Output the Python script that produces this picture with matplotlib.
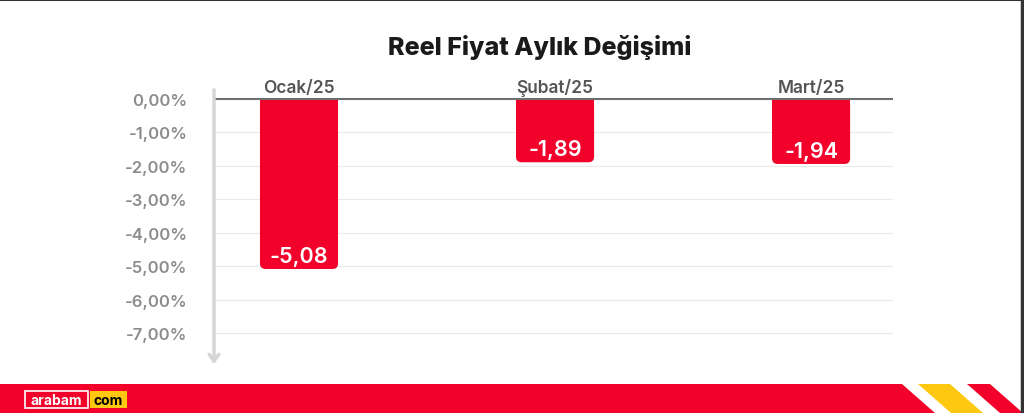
import matplotlib.pyplot as plt
from matplotlib.patches import FancyBboxPatch, Polygon, Rectangle

# veriler
aylar = ["Ocak/25", "Şubat/25", "Mart/25"]
degisim = [-5.08, -1.89, -1.94]
etiketler = ["-5,08", "-1,89", "-1,94"]
y_ticks = [0, -1, -2, -3, -4, -5, -6, -7]
y_tick_etiket = ["0,00%", "-1,00%", "-2,00%", "-3,00%", "-4,00%", "-5,00%", "-6,00%", "-7,00%"]

KIRMIZI = "#f2022b"
SARI = "#fdc80f"
W, H = 1024, 414

plt.rcParams['font.family'] = ['Inter', 'DejaVu Sans']

fig = plt.figure(figsize=(W / 100, H / 100), dpi=100)
fig.patch.set_facecolor("white")

# eksen: piksel konumlari
left, right, top, bottom = 214, 893, 88, 365
ax = fig.add_axes([left / W, 1 - bottom / H, (right - left) / W, (bottom - top) / H])
ax.set_xlim(-0.332, 2.32)
ax.set_ylim(-7.92, 0.36)
for s in ax.spines.values():
    s.set_visible(False)
ax.set_xticks([])
ax.set_yticks(y_ticks)
ax.set_yticklabels(y_tick_etiket, color="#8c8c8c", fontsize=12, fontweight="semibold")
ax.tick_params(axis="y", length=0, pad=19)

for t in y_ticks[1:]:
    ax.axhline(t, color="#e9e9e9", lw=0.8, zorder=0)
ax.axhline(0, color="#6e6e6e", lw=1.5, zorder=3)

# dikey ok
ax.annotate("", xy=(left / W, 1 - 368 / H), xytext=(left / W, 1 - top / H),
            xycoords="figure fraction",
            arrowprops=dict(arrowstyle="->,head_length=0.5,head_width=0.35",
                            color="#d6d6d6", lw=2.5))

x = list(range(len(aylar)))
bw = 0.305
px_x = (right - left) / (ax.get_xlim()[1] - ax.get_xlim()[0])
px_y = (bottom - top) / (ax.get_ylim()[1] - ax.get_ylim()[0])
asp = px_x / px_y
for i, v in enumerate(degisim):
    # ust kisim duz, alt koseler yuvarlak
    ax.bar(x[i], v / 2, width=bw, color=KIRMIZI, zorder=2, linewidth=0)
    ax.add_patch(FancyBboxPatch((x[i] - bw / 2, v), bw, -v,
                                boxstyle="round,pad=0,rounding_size=0.022",
                                mutation_aspect=asp, fc=KIRMIZI, ec="none", zorder=2))
    ax.annotate(etiketler[i], (x[i], v), xytext=(0, 2), textcoords="offset points",
                ha="center", va="bottom", color="white", fontsize=15.5, fontweight="semibold",
                zorder=4)
    ax.annotate(aylar[i], (x[i], 0), xytext=(0, 2), textcoords="offset points",
                ha="center", va="bottom", color="#555555", fontsize=12.5, fontweight="semibold",
                zorder=4)

fig.text(540 / W, 1 - 47 / H, "Reel Fiyat Aylık Değişimi", ha="center", va="center",
         fontsize=18, fontweight="heavy", color="#1a1a1a")

# alt bant
ov = fig.add_axes([0, 0, 1, 1], zorder=-1)
ov.set_xlim(0, W)
ov.set_ylim(H, 0)
ov.axis("off")
ov.add_patch(Polygon([(0, 385), (902, 385), (935, 414), (0, 414)], fc=KIRMIZI, ec="none"))
ov.add_patch(Polygon([(918, 385), (950, 385), (983, 414), (951, 414)], fc=SARI, ec="none"))
ov.add_patch(Polygon([(967, 385), (990, 385), (1023, 414), (1000, 414)], fc=KIRMIZI, ec="none"))
ov.plot([0, W], [0.5, 0.5], color="#333333", lw=1.5)
ov.plot([1021.5, 1021.5], [0, H], color="#333333", lw=2.5)

# logo
ov.add_patch(Rectangle((25, 392), 63, 17, fc=KIRMIZI, ec="white", lw=1.2))
ov.add_patch(Rectangle((90, 392), 37, 17, fc=SARI, ec="none"))
ov.text(56.5, 401, "arabam", ha="center", va="center", color="white", fontsize=10, fontweight="bold")
ov.text(108.5, 401, "com", ha="center", va="center", color="black", fontsize=10, fontweight="bold")

fig.savefig("out.png", dpi=100, facecolor="white")
